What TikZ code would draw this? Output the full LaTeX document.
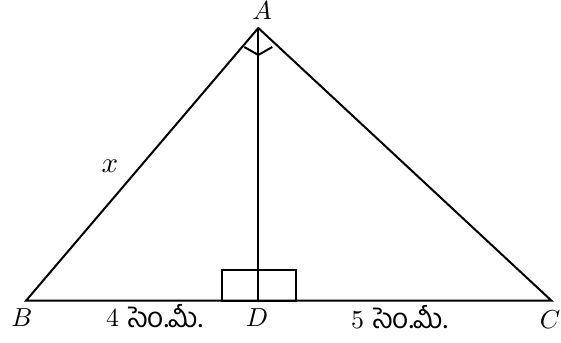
\documentclass[tikz,border=0pt]{standalone}
\usepackage{fontspec}
\newfontfamily\telugu[Script=Telugu]{Hind Guntur}
\newcommand\lt[1]{\scalebox{2.6}{#1}}
\newcommand\telsize{\fontsize{28}{30}\selectfont}
\begin{document}
\begin{tikzpicture}[x=1pt,y=1pt,
  edge/.style={line width=2pt},
  lbl/.style={inner sep=0pt, anchor=base}]
\useasboundingbox (0,0) rectangle (561,342);
\coordinate (A) at (258.3,314);
\coordinate (B) at (26,41.3);
\coordinate (C) at (551.5,41.3);
\coordinate (D) at (258.3,41.3);
\coordinate (R1) at (221.7,41.3);
\coordinate (R2) at (296,72);
\coordinate (M1) at (244.3,295);
\coordinate (M2) at (258.3,287);
\coordinate (M3) at (272.3,295);
\draw[edge, line join=miter] (B) -- (A) -- (C) -- cycle;
\draw[edge] (A) -- (D);
\draw[edge] (R1) rectangle (R2);
\draw[edge] (M1) -- (M2) -- (M3);
\node[lbl] (lA) at (262,322) {\lt{$A$}};
\node[lbl] (lB) at (22,15) {\lt{$B$}};
\node[lbl] (lD) at (257,15) {\lt{$D$}};
\node[lbl] (lC) at (550,13) {\lt{$C$}};
\node[lbl] (lx) at (110,169) {\scalebox{2.9}{$x$}};
\node[lbl, anchor=base west] (l4) at (106,15) {\lt{4}\hspace{9pt}{\telsize\telugu సెం.మీ.}};
\node[lbl, anchor=base west] (l5) at (351,13) {\lt{5}\hspace{9pt}{\telsize\telugu సెం.మీ.}};
\end{tikzpicture}
\end{document}
